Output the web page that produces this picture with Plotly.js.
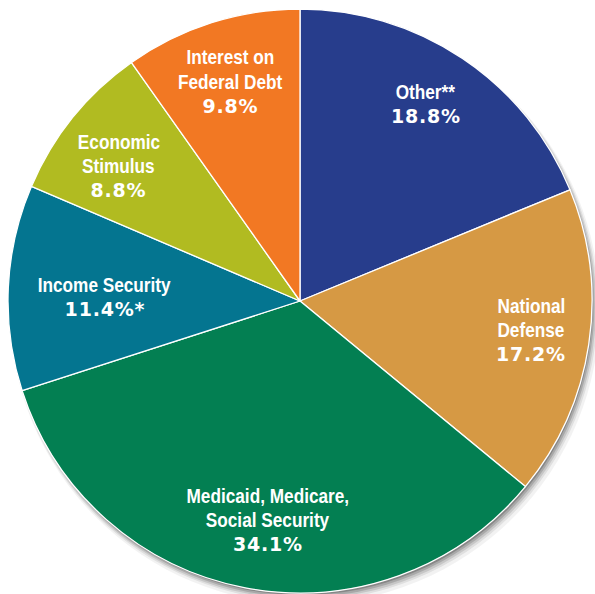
<!DOCTYPE html>
<html>
<head>
<meta charset="utf-8">
<script src="https://cdn.plot.ly/plotly-3.0.1.min.js"></script>
<style>html,body{margin:0;padding:0;background:#fff;}#chart{width:595px;height:594px;}</style>
</head>
<body>
<div id="chart"></div>
<script>
// Data (clockwise from 12 o'clock)
const categories = ["Other**", "National Defense", "Medicaid, Medicare, Social Security", "Income Security", "Economic Stimulus", "Interest on Federal Debt"];
const values = [18.8, 17.2, 34.1, 11.4, 8.8, 9.8];
const nameLines = [["Other**"], ["National", "Defense"], ["Medicaid, Medicare,", "Social Security"], ["Income Security"], ["Economic", "Stimulus"], ["Interest on", "Federal Debt"]];
const pctLabels = ["18.8%", "17.2%", "34.1%", "11.4%*", "8.8%", "9.8%"];
const colors = ["#273d8c", "#d69944", "#037f52", "#047590", "#b1bb21", "#f27823"];

// Layout geometry (styling)
const W = 595, H = 594;
const CX = 300, CY = 301, R = 292;
const labelRadius = [0.80, 0.798, 0.757, 0.668, 0.774, 0.79];
const labelAngleShift = [-1.2, -1.4, -2.4, -1.4, -2.2, 0];
const LINE = 24.5;

// detect narrow font
function hasFont(fam) {
  const c = document.createElement('canvas').getContext('2d');
  const s = 'Income Security Medicaid';
  c.font = 'bold 20px monospace'; const a = c.measureText(s).width;
  c.font = 'bold 20px "' + fam + '", monospace'; const b = c.measureText(s).width;
  return Math.abs(a - b) > 0.5;
}
const narrowOK = hasFont('Liberation Sans Narrow');
const nameFamily = narrowOK ? '"Liberation Sans Narrow", sans-serif' : '"Liberation Sans", Arial, sans-serif';
const nameScale = narrowOK ? 1.0 : 0.84;

const total = values.reduce((a, b) => a + b, 0);
let cum = 0;
const annotations = [];
values.forEach((v, i) => {
  const mid = (cum + v / 2) / total * 2 * Math.PI + labelAngleShift[i] * Math.PI / 180;
  cum += v;
  const r = R * labelRadius[i];
  const px = CX + r * Math.sin(mid);
  const py = CY - r * Math.cos(mid);
  const lines = nameLines[i];
  const n = lines.length + 1;
  lines.forEach((ln, k) => {
    const ly = py + (k - (n - 1) / 2) * LINE;
    annotations.push({
      x: px / W, y: 1 - ly / H, xref: 'paper', yref: 'paper',
      xanchor: 'center', yanchor: 'middle', showarrow: false,
      text: '<b>' + ln + '</b>', name: 'nm',
      font: {family: nameFamily, size: 20.5, color: '#ffffff'}
    });
  });
  const ly = py + (n - 1 - (n - 1) / 2) * LINE;
  annotations.push({
    x: px / W, y: 1 - ly / H, xref: 'paper', yref: 'paper',
    xanchor: 'center', yanchor: 'middle', showarrow: false,
    text: '<b>' + pctLabels[i] + '</b>', name: 'pct',
    font: {family: '"DejaVu Sans", sans-serif', size: 19, color: '#ffffff'}
  });
});

// soft drop shadow behind the pie
const shadows = [];
const shadowSteps = [[8, 3, 0.05], [6, 2, 0.08], [5, 1, 0.11], [4, 0, 0.15], [3, -1, 0.2]];
shadowSteps.forEach(([off, grow, op]) => {
  shadows.push({
    type: 'circle', layer: 'below', xref: 'paper', yref: 'paper',
    x0: (CX - R - grow + off * 0.6) / W, x1: (CX + R + grow + off * 0.6) / W,
    y0: 1 - (CY + R + grow + off) / H, y1: 1 - (CY - R - grow + off) / H,
    fillcolor: 'rgba(0,0,0,' + op + ')', line: {width: 0}
  });
});

const trace = {
  type: 'pie',
  labels: categories,
  values: values,
  sort: false,
  direction: 'clockwise',
  rotation: 0,
  textinfo: 'none',
  hoverinfo: 'label+percent',
  marker: {colors: colors, line: {color: '#ffffff', width: 1.3}},
  domain: {x: [(CX - R) / W, (CX + R) / W], y: [1 - (CY + R) / H, 1 - (CY - R) / H]},
  showlegend: false
};

const layout = {
  width: W, height: H,
  margin: {l: 0, r: 0, t: 0, b: 0},
  paper_bgcolor: '#ffffff',
  showlegend: false,
  annotations: annotations,
  shapes: shadows
};

Plotly.newPlot('chart', [trace], layout, {displayModeBar: false, staticPlot: true}).then(gd => {
  const groups = gd.querySelectorAll('g.annotation');
  groups.forEach(g => {
    const idx = +g.getAttribute('data-index');
    const ann = annotations[idx];
    const t = g.querySelector('text.annotation-text');
    if (!t) return;
    if (ann.name === 'nm' && nameScale !== 1) {
      const x = parseFloat(t.getAttribute('x')) || 0;
      t.setAttribute('transform', 'translate(' + x + ',0) scale(' + nameScale + ',1) translate(' + (-x) + ',0)');
    } else if (ann.name === 'pct') {
      t.style.letterSpacing = '0.8px';
    }
  });
});
</script>
</body>
</html>
